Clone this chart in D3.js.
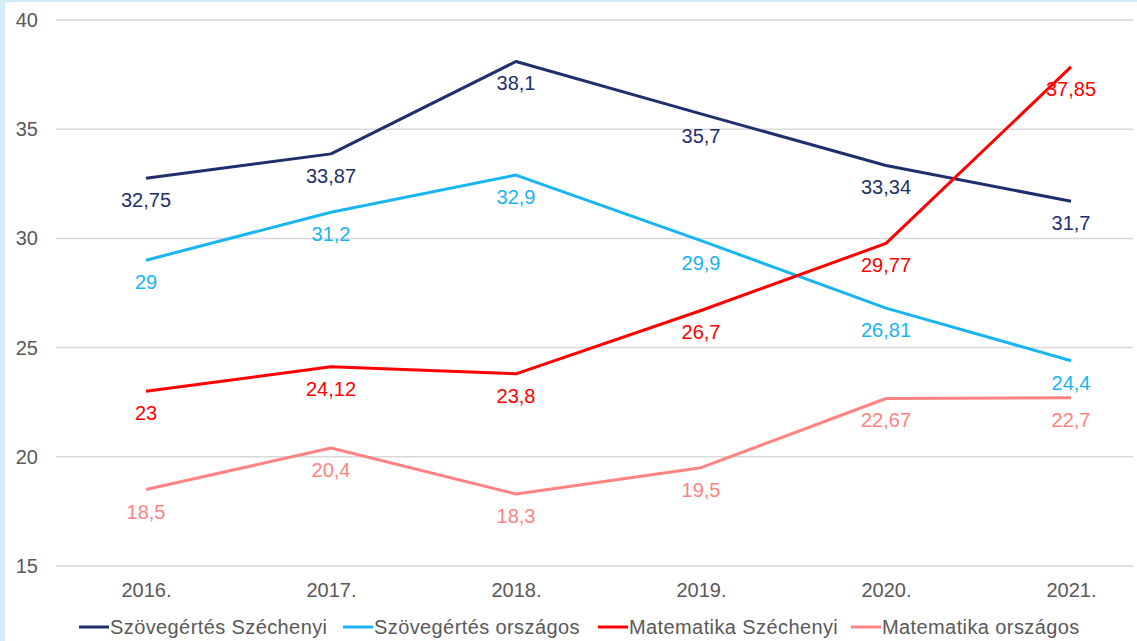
<!DOCTYPE html>
<html>
<head>
<meta charset="utf-8">
<script src="https://cdn.jsdelivr.net/npm/d3@7"></script>
<style>
  body { margin: 0; background: #fff; }
  svg { display: block; font-family: "Liberation Sans", Arial, sans-serif; }
</style>
</head>
<body>
<div id="chart"></div>
<script>
var years = ["2016.", "2017.", "2018.", "2019.", "2020.", "2021."];
var yTicks = [15, 20, 25, 30, 35, 40];

var seriesNames = ["Szövegértés Széchenyi", "Szövegértés országos", "Matematika Széchenyi", "Matematika országos"];
var seriesColors = ["#1f2f6e", "#19b5f0", "#ff0000", "#ff8383"];

var szovSzech = [32.75, 33.87, 38.1, 35.7, 33.34, 31.7];
var szovOrsz = [29, 31.2, 32.9, 29.9, 26.81, 24.4];
var matSzech = [23, 24.12, 23.8, 26.7, 29.77, 37.85];
var matOrsz = [18.5, 20.4, 18.3, 19.5, 22.67, 22.7];

var allSeries = [szovSzech, szovOrsz, matSzech, matOrsz];

var svgWidth = 1137;
var svgHeight = 641;

var svg = d3.select("#chart")
  .append("svg")
  .attr("width", svgWidth)
  .attr("height", svgHeight);

// light blue frame at left and top
svg.append("rect").attr("x", 0).attr("y", 0).attr("width", svgWidth).attr("height", svgHeight).attr("fill", "#d3ecfc");
svg.append("rect").attr("x", 5).attr("y", 2).attr("width", svgWidth - 5).attr("height", svgHeight - 2).attr("fill", "#fff");

var xScale = d3.scalePoint()
  .domain(years)
  .range([146, 1071]);

var yScale = d3.scaleLinear()
  .domain([15, 40])
  .range([566, 20]);

// gridlines
svg.append("g")
  .selectAll("line")
  .data(yTicks)
  .enter()
  .append("line")
  .attr("x1", 56)
  .attr("x2", 1133)
  .attr("y1", d => yScale(d))
  .attr("y2", d => yScale(d))
  .attr("stroke", "#d9d9d9")
  .attr("stroke-width", 1.5);

// y axis labels
var leftAxis = d3.axisLeft(yScale).tickValues(yTicks).tickSize(0).tickPadding(0);
var yAxis = svg.append("g")
  .attr("transform", "translate(38,0)")
  .call(leftAxis);
yAxis.select(".domain").remove();
yAxis.selectAll("text")
  .attr("fill", "#595959")
  .style("font-size", "20px")
  .style("font-family", "Liberation Sans, Arial, sans-serif");

// x axis labels
var bottomAxis = d3.axisBottom(xScale).tickSize(0).tickPadding(0);
var xAxis = svg.append("g")
  .call(bottomAxis);
xAxis.select(".domain").remove();
xAxis.selectAll("text")
  .attr("y", 597)
  .attr("dy", 0)
  .attr("fill", "#595959")
  .style("font-size", "20px")
  .style("font-family", "Liberation Sans, Arial, sans-serif");

var line = d3.line()
  .x((d, i) => xScale(years[i]))
  .y(d => yScale(d));

allSeries.forEach(function(values, s) {
  svg.append("path")
    .datum(values)
    .attr("fill", "none")
    .attr("stroke", seriesColors[s])
    .attr("stroke-width", 3)
    .attr("stroke-linejoin", "round")
    .attr("d", line);
});

// data labels
allSeries.forEach(function(values, s) {
  svg.append("g")
    .selectAll("text")
    .data(values)
    .enter()
    .append("text")
    .attr("x", (d, i) => xScale(years[i]))
    .attr("y", d => yScale(d) + 29)
    .attr("text-anchor", "middle")
    .attr("fill", seriesColors[s])
    .style("font-size", "20px")
    .text(d => String(d).replace(".", ","));
});

// legend
var legendX = [79, 343, 598, 851];
var legend = svg.append("g");
seriesNames.forEach(function(name, s) {
  legend.append("line")
    .attr("x1", legendX[s])
    .attr("x2", legendX[s] + 30)
    .attr("y1", 627)
    .attr("y2", 627)
    .attr("stroke", seriesColors[s])
    .attr("stroke-width", 3);
  legend.append("text")
    .attr("x", legendX[s] + 31)
    .attr("y", 634)
    .attr("fill", "#595959")
    .style("font-size", "20px")
    .style("letter-spacing", "0.4px")
    .text(name);
});
</script>
</body>
</html>
